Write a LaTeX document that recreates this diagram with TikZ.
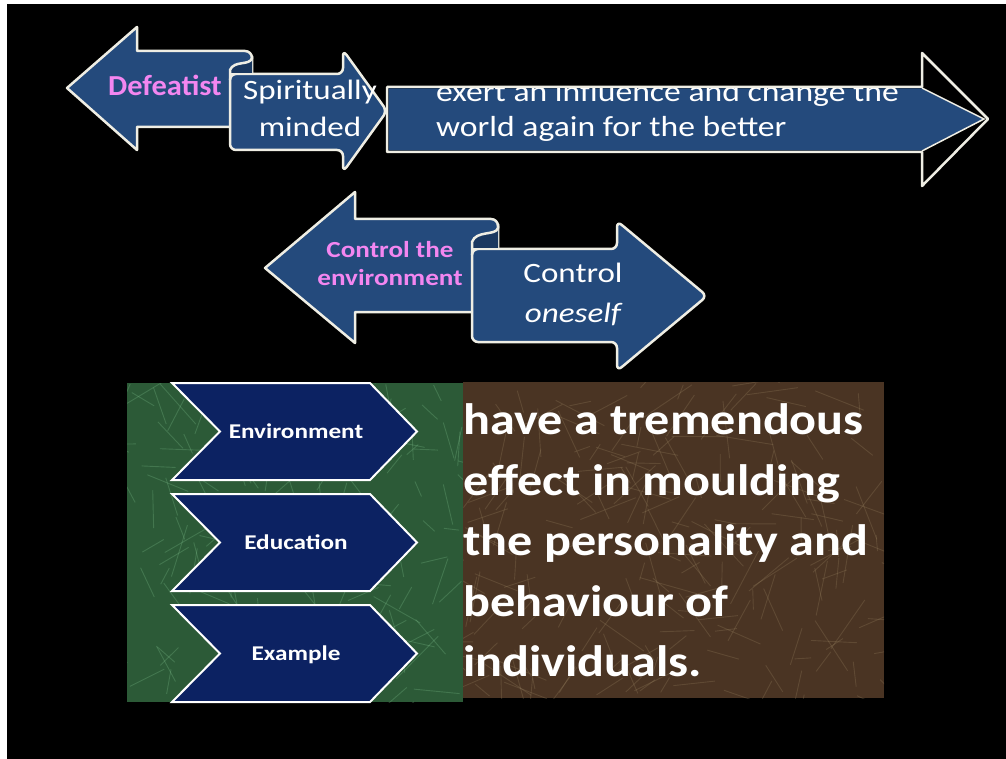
\documentclass[tikz,border=0pt]{standalone}
\usepackage{fontspec}
\setmainfont{Carlito}
\definecolor{arrowblue}{HTML}{244A7C}
\definecolor{curlblue}{HTML}{1A3860}
\definecolor{chevblue}{HTML}{0C2262}
\definecolor{edgewhite}{HTML}{EFEEE4}
\definecolor{pinktext}{HTML}{F386F0}
\definecolor{greenbase}{HTML}{2C5A37}
\definecolor{greenlight}{HTML}{7FC08C}
\definecolor{brownbase}{HTML}{4A3423}
\definecolor{brownlight}{HTML}{A08A66}
\tikzset{
  bluearrow/.style={fill=arrowblue, draw=edgewhite, line width=2.5pt, line join=round},
  curlpart/.style={fill=curlblue},
  curledge/.style={draw=edgewhite, line width=2.5pt, line join=round},
  chevron/.style={fill=chevblue, draw=white, line width=2pt, line join=miter},
  lbl/.style={inner sep=0pt, anchor=base},
  wlbl/.style={lbl, text=white},
  plbl/.style={lbl, text=pinktext, xscale=1.18, font=\bfseries\fontsize{23}{23}\selectfont},
}
\begin{document}
\begin{tikzpicture}[x=1pt,y=-1pt]
\useasboundingbox (0,0) rectangle (1006,759);
\fill[white] (0,0) rectangle (1006,759);
\fill[black] (7,4) rectangle (1006,759);

% ---------- top row ----------
\path[bluearrow] (67,88) -- (137,27) -- (137,51) -- (245,51)
   to[out=0,in=90] (252,58) -- (252,127) -- (137,127) -- (137,150) -- cycle;
\path[bluearrow, rounded corners=6pt] (230,74) -- (343,74) -- (343,50) -- (387,111)
   -- (343,172) -- (343,150) -- (230,150) -- cycle;
\fill[curlpart] (252,58) .. controls (250,66) and (234,60) .. (230,70) -- (230,74) -- (252,74) -- cycle;
\draw[curledge] (252,56) -- (252,58) .. controls (250,66) and (234,60) .. (230,70) -- (230,80);
\draw[curledge] (230,74) -- (260,74);

% exert arrow
\path[fill=black, draw=edgewhite, line width=2.5pt, line join=round]
   (387,87) -- (922,87) -- (922,53) -- (988,119) -- (922,186) -- (922,152) -- (387,152) -- cycle;
\fill[arrowblue] (388.5,88.5) -- (922,88.5) -- (984,119) -- (922,150.5) -- (388.5,150.5) -- cycle;
\draw[edgewhite, line width=1.5pt] (922,88) -- (984,119) -- (922,151);
\begin{scope}
  \clip (389,89) rectangle (922,150);
  \node[wlbl, anchor=base west, xscale=1.16, font=\fontsize{29}{29}\selectfont] (ex1) at (436,102) {exert an influence and change the};
  \node[wlbl, anchor=base west, xscale=1.16, font=\fontsize{29}{29}\selectfont] (ex2) at (436,137) {world again for the better};
\end{scope}

\node[lbl, text=pinktext, xscale=1.05, font=\bfseries\fontsize{29}{29}\selectfont] (def) at (165,96) {Defeatist};
\node[wlbl, xscale=1.18, font=\fontsize{28}{28}\selectfont] (sp1) at (310,100) {Spiritually};
\node[wlbl, xscale=1.18, font=\fontsize{28}{28}\selectfont] (sp2) at (310,137) {minded};

% ---------- middle row ----------
\path[bluearrow] (265,268) -- (355,192) -- (355,219) -- (491,219)
   to[out=0,in=90] (498,226) -- (498,312) -- (355,312) -- (355,343) -- cycle;
\path[bluearrow, rounded corners=6pt] (472,249) -- (617,249) -- (617,221) -- (707,296)
   -- (617,371) -- (617,342) -- (472,342) -- cycle;
\fill[curlpart] (498,228) .. controls (496,236) and (476,230) .. (472,242) -- (472,249) -- (498,249) -- cycle;
\draw[curledge] (498,224) -- (498,228) .. controls (496,236) and (476,230) .. (472,242) -- (472,255);
\draw[curledge] (472,249) -- (505,249);

\node[plbl] (ce1) at (390,258) {Control the};
\node[plbl] (ce2) at (390,286) {environment};
\node[wlbl, xscale=1.18, font=\fontsize{28}{28}\selectfont] (co1) at (573,283) {Control};
\node[wlbl, xscale=1.18, font=\itshape\fontsize{28}{28}\selectfont] (co2) at (573,322) {oneself};

% ---------- bottom: green panel ----------
\begin{scope}
  \clip (127,383) rectangle (463,702);
  \fill[greenbase] (127,383) rectangle (463,702);
  \pgfmathsetseed{11}
  \foreach \i in {1,...,160}{
    \pgfmathsetmacro{\ax}{127+336*rnd}
    \pgfmathsetmacro{\ay}{383+319*rnd}
    \pgfmathsetmacro{\ang}{360*rnd}
    \pgfmathsetmacro{\len}{15+45*rnd}
    \draw[greenlight, opacity=0.28, line width=0.9pt] (\ax,\ay) -- ++(\ang:\len);
  }
\end{scope}
% brown panel
\begin{scope}
  \clip (463,382) rectangle (884,698);
  \fill[brownbase] (463,382) rectangle (884,698);
  \pgfmathsetseed{23}
  \foreach \i in {1,...,200}{
    \pgfmathsetmacro{\ax}{463+421*rnd}
    \pgfmathsetmacro{\ay}{382+316*rnd}
    \pgfmathsetmacro{\ang}{360*rnd}
    \pgfmathsetmacro{\len}{15+45*rnd}
    \draw[brownlight, opacity=0.25, line width=0.9pt] (\ax,\ay) -- ++(\ang:\len);
  }
\end{scope}

% chevrons
\path[chevron] (172,383) -- (370,383) -- (417,431.5) -- (370,480) -- (172,480) -- (220,431.5) -- cycle;
\path[chevron] (172,494) -- (370,494) -- (417,542.5) -- (370,591) -- (172,591) -- (220,542.5) -- cycle;
\path[chevron] (172,605) -- (370,605) -- (417,653.5) -- (370,702) -- (172,702) -- (220,653.5) -- cycle;
\node[wlbl, xscale=1.2, font=\bfseries\fontsize{21}{21}\selectfont] (en) at (296,438) {Environment};
\node[wlbl, xscale=1.2, font=\bfseries\fontsize{21}{21}\selectfont] (ed) at (296,549) {Education};
\node[wlbl, xscale=1.2, font=\bfseries\fontsize{21}{21}\selectfont] (exm) at (296,660) {Example};

% big text
\node[wlbl, anchor=base west, xscale=1.14, font=\bfseries\fontsize{44}{44}\selectfont] (b1) at (463,434) {have a tremendous};
\node[wlbl, anchor=base west, xscale=1.14, font=\bfseries\fontsize{44}{44}\selectfont] (b2) at (463,495) {effect in moulding};
\node[wlbl, anchor=base west, xscale=1.14, font=\bfseries\fontsize{44}{44}\selectfont] (b3) at (463,555) {the personality and};
\node[wlbl, anchor=base west, xscale=1.14, font=\bfseries\fontsize{44}{44}\selectfont] (b4) at (463,616) {behaviour of};
\node[wlbl, anchor=base west, xscale=1.14, font=\bfseries\fontsize{44}{44}\selectfont] (b5) at (463,676) {individuals.};
\end{tikzpicture}
\end{document}
